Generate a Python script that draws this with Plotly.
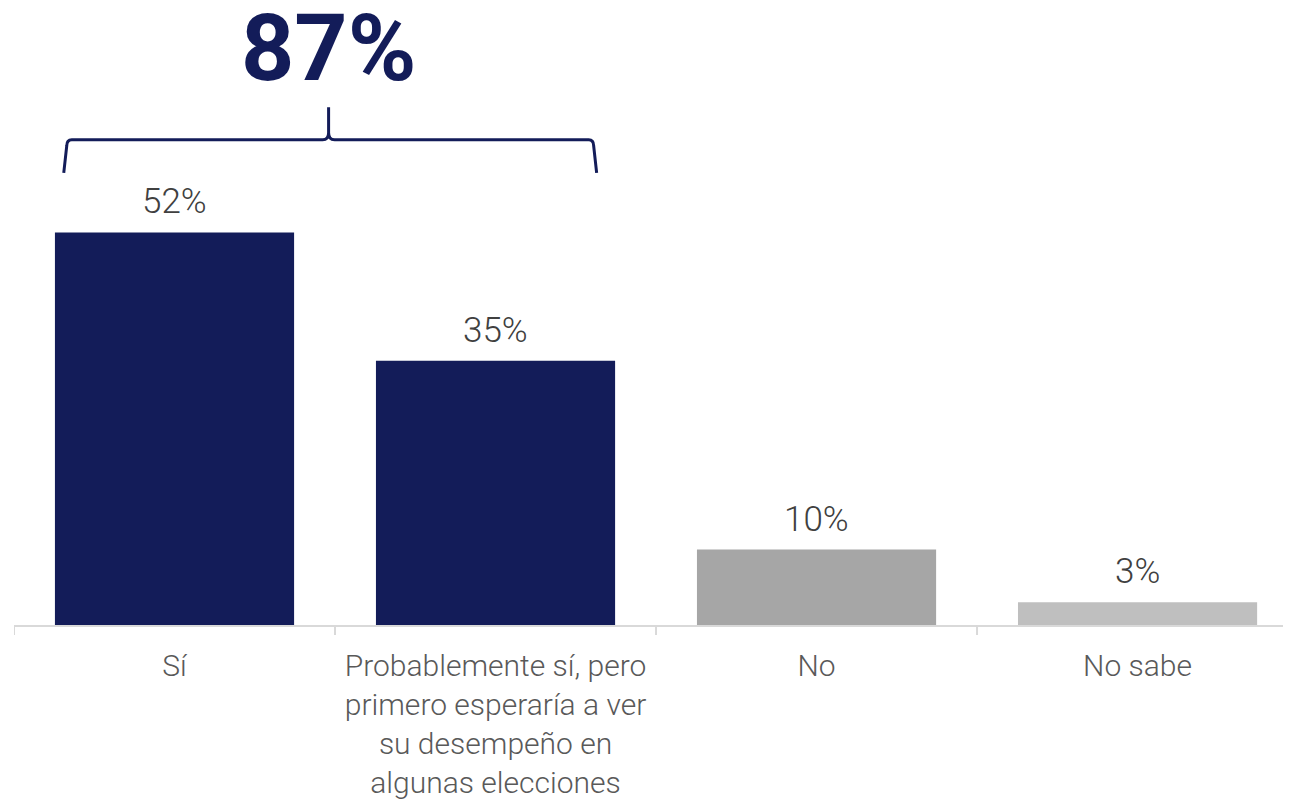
import plotly.graph_objects as go

categories = ["Sí", "Probablemente sí, pero<br>primero esperaría a ver<br>su desempeño en<br>algunas elecciones", "No", "No sabe"]
values = [52, 35, 10, 3]
value_labels = ["52%", "35%", "10%", "3%"]
bar_colors = ["#131C59", "#131C59", "#A6A6A6", "#BFBFBF"]
total_label = "87%"

NAVY = "#131C59"
# page body has an 8px margin; figure sized so its right/bottom edges meet the window
W, H = 1283, 791
ML, MB, MT = 6, 174, 0
x_range = [-0.5, 3.478]
y_range = [0, 81.74]
PX_PER_UNIT = (H - MB - MT) / (y_range[1] - y_range[0])

fig = go.Figure()
fig.add_trace(go.Bar(
    x=list(range(len(categories))), y=values, marker=dict(color=bar_colors, line=dict(width=0)),
    width=0.745, hoverinfo="skip", showlegend=False,
))

for i, (v, t) in enumerate(zip(values, value_labels)):
    fig.add_annotation(x=i, y=v, text=t, showarrow=False, yanchor="bottom", yshift=8,
                       font=dict(family="Roboto", size=35, color="#404040", weight=300))

# brace over the first two categories
span = x_range[1] - x_range[0]
def px(c):
    return (c - x_range[0]) / span
x0, x1, xc = px(0 - 0.345), px(1 + 0.315), px(0.48)
yb = values[0] + 7.9
yh = values[0] + 12.3
yt = values[0] + 16.6
plot_w = W - ML
dxc = 8 / plot_w
sl = 3 / plot_w
dxm = 6 / plot_w
e = 7 / PX_PER_UNIT
e2 = 6 / PX_PER_UNIT
path = (f"M {x0},{yb} L {x0+sl},{yh-e2} Q {x0+sl},{yh} {x0+dxc},{yh} "
        f"L {xc-dxm},{yh} Q {xc},{yh} {xc},{yh+e} L {xc},{yt} "
        f"M {xc},{yh+e} Q {xc},{yh} {xc+dxm},{yh} "
        f"L {x1-dxc},{yh} Q {x1-sl},{yh} {x1-sl},{yh-e2} L {x1},{yb}")
fig.add_shape(type="path", path=path, xref="paper", yref="y",
              line=dict(color=NAVY, width=3))

fig.add_annotation(x=xc, xref="paper", y=yt + 59 / PX_PER_UNIT, yref="y", text=f"<b>{total_label}</b>",
                   showarrow=False, xanchor="center", yanchor="middle",
                   font=dict(family="Roboto", size=93, color=NAVY))

fig.update_xaxes(
    type="linear", range=x_range,
    tickvals=list(range(len(categories))), ticktext=categories,
    showline=True, linecolor="#D9D9D9", linewidth=2,
    ticks="", showgrid=False, zeroline=False,
    ticklabelstandoff=13,
    tickfont=dict(family="Roboto", size=30, color="#595959", weight=300),
    fixedrange=True,
)
# boundary tick marks
for b in [-0.5, 0.5, 1.5, 2.5]:
    fig.add_shape(type="line", xref="x", yref="paper", x0=b, x1=b, y0=0, y1=-10 / (H - MB - MT),
                  line=dict(color="#D9D9D9", width=2))

fig.update_yaxes(range=y_range, visible=False, showgrid=False, zeroline=False, fixedrange=True)

fig.update_layout(
    width=W, height=H,
    margin=dict(l=ML, r=0, t=MT, b=MB, pad=0),
    plot_bgcolor="white", paper_bgcolor="white",
)

fig.write_html("out.html")
